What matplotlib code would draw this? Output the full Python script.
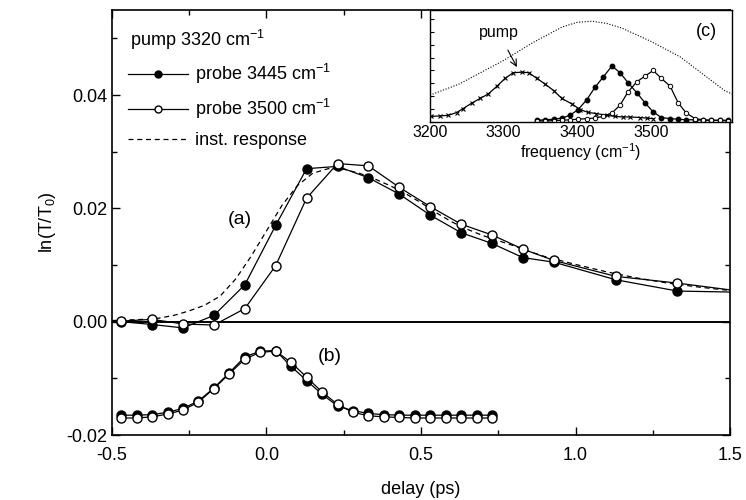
import numpy as np
import matplotlib
matplotlib.use("Agg")
import matplotlib.pyplot as plt
from matplotlib.ticker import MultipleLocator, NullFormatter, FixedLocator

plt.rcParams['font.family'] = ['Liberation Sans', 'DejaVu Sans']
plt.rcParams['mathtext.fontset'] = 'custom'
plt.rcParams['mathtext.rm'] = 'Liberation Sans'
plt.rcParams['mathtext.it'] = 'Liberation Sans:italic'

# (a) pump-probe transients
delay = [-0.47, -0.37, -0.27, -0.17, -0.07, 0.03, 0.13, 0.23, 0.33, 0.43,
         0.53, 0.63, 0.73, 0.83, 0.93, 1.13, 1.33, 1.53]
probe_3445 = [0.0000, -0.0005, -0.0011, 0.0011, 0.0065, 0.0170, 0.0270, 0.0274, 0.0254, 0.0225,
              0.0188, 0.0157, 0.0138, 0.0113, 0.0105, 0.0074, 0.0054, 0.0052]
probe_3500 = [0.0001, 0.0004, -0.0004, -0.0006, 0.0023, 0.0099, 0.0218, 0.0279, 0.0275, 0.0237,
              0.0203, 0.0172, 0.0153, 0.0128, 0.0108, 0.0080, 0.0068, 0.0054]

# instrument response (dashed)
inst_delay = [-0.5, -0.45, -0.4, -0.35, -0.3, -0.25, -0.2, -0.15, -0.1, -0.05, 0.0, 0.05, 0.1,
              0.15, 0.2, 0.25, 0.3, 0.35, 0.4, 0.45, 0.5, 0.55, 0.6, 0.65, 0.7, 0.75, 0.8,
              0.85, 0.9, 0.95, 1.0, 1.1, 1.2, 1.3, 1.4, 1.5]
inst_resp = [0.0002, 0.0003, 0.0004, 0.0006, 0.0011, 0.0019, 0.0029, 0.0045, 0.0075, 0.0115,
             0.0160, 0.0205, 0.0240, 0.0262, 0.0270, 0.0269, 0.0262, 0.0252, 0.0240, 0.0226,
             0.0210, 0.0192, 0.0176, 0.0163, 0.0152, 0.0143, 0.0134, 0.0124, 0.0115, 0.0108,
             0.0101, 0.0088, 0.0077, 0.0068, 0.0061, 0.0055]

# (b) cross correlation traces
b_delay = [-0.47, -0.42, -0.37, -0.32, -0.27, -0.22, -0.17, -0.12, -0.07, -0.02, 0.03, 0.08,
           0.13, 0.18, 0.23, 0.28, 0.33, 0.38, 0.43, 0.48, 0.53, 0.58, 0.63, 0.68, 0.73]
b_3445 = [-0.0165, -0.0165, -0.0164, -0.0160, -0.0153, -0.0140, -0.0117, -0.0090, -0.0062,
          -0.0052, -0.0051, -0.0079, -0.0104, -0.0128, -0.0149, -0.0157, -0.0162, -0.0164,
          -0.0165, -0.0165, -0.0165, -0.0165, -0.0165, -0.0165, -0.0165]
b_3500 = [-0.0170, -0.0170, -0.0168, -0.0163, -0.0156, -0.0142, -0.0118, -0.0092, -0.0066,
          -0.0054, -0.0052, -0.0072, -0.0098, -0.0124, -0.0146, -0.0160, -0.0166, -0.0168,
          -0.0169, -0.0170, -0.0170, -0.0170, -0.0170, -0.0170, -0.0170]

# (c) spectra
laser_freq = [3200, 3220, 3240, 3260, 3280, 3300, 3320, 3340, 3360, 3380, 3400, 3420, 3440,
              3460, 3480, 3500, 3520, 3540, 3560, 3580, 3600, 3610]
laser_spec = [0.24, 0.29, 0.34, 0.41, 0.48, 0.55, 0.63, 0.71, 0.78, 0.85, 0.89, 0.90, 0.88,
              0.84, 0.78, 0.72, 0.65, 0.58, 0.48, 0.38, 0.28, 0.25]
pump_freq = [3202, 3213, 3225, 3236, 3245, 3257, 3268, 3279, 3291, 3302, 3313, 3325, 3334,
             3345, 3356, 3368, 3379, 3393, 3404, 3415, 3426, 3440, 3451, 3462, 3472, 3485,
             3494, 3503]
pump_spec = [0.05, 0.054, 0.06, 0.084, 0.12, 0.17, 0.21, 0.25, 0.32, 0.39, 0.44, 0.445, 0.44,
             0.39, 0.34, 0.28, 0.21, 0.16, 0.11, 0.085, 0.075, 0.06, 0.05, 0.045, 0.045, 0.04,
             0.035, 0.03]
probe_freq = [3345, 3356, 3368, 3379, 3390, 3401, 3413, 3424, 3435, 3447, 3458, 3469, 3481,
              3492, 3503, 3514, 3526, 3537, 3548, 3560, 3571, 3582, 3594, 3605]
spec_3445 = [0.015, 0.02, 0.025, 0.035, 0.06, 0.11, 0.20, 0.31, 0.40, 0.50, 0.44, 0.35, 0.26,
             0.17, 0.09, 0.04, 0.03, 0.025, 0.02, 0.02, 0.015, 0.015, 0.015, 0.015]
spec_3500 = [0.01, 0.01, 0.012, 0.015, 0.02, 0.025, 0.03, 0.035, 0.05, 0.08, 0.15, 0.27, 0.36,
             0.41, 0.46, 0.39, 0.32, 0.17, 0.08, 0.03, 0.02, 0.015, 0.015, 0.01]
freq_ticks = [3200, 3300, 3400, 3500]

fig = plt.figure(figsize=(7.46, 5.0), dpi=100)
ax = fig.add_axes([0.150, 0.13, 0.8286, 0.85])

ax.axhline(0, color='black', lw=1.4, zorder=1)
ax.plot(inst_delay, inst_resp, color='black', lw=0.9, dashes=(4, 3), label='inst. response')
ax.plot(delay, probe_3445, '-o', color='black', lw=0.9, ms=6.5, mfc='black', mec='black',
        label='probe 3445 cm$^{-1}$')
ax.plot(delay, probe_3500, '-o', color='black', lw=0.9, ms=6.5, mfc='white', mec='black',
        label='probe 3500 cm$^{-1}$')
ax.plot(b_delay, b_3445, '-o', color='black', lw=0.9, ms=6.5, mfc='black', mec='black')
ax.plot(b_delay, b_3500, '-o', color='black', lw=0.9, ms=6.5, mfc='white', mec='black')

ax.set_xlim(-0.5, 1.5)
ax.set_ylim(-0.02, 0.055)
ax.xaxis.set_major_locator(MultipleLocator(0.5))
ax.xaxis.set_minor_locator(MultipleLocator(0.25))
ax.yaxis.set_major_locator(MultipleLocator(0.02))
ax.yaxis.set_minor_locator(MultipleLocator(0.01))
ax.xaxis.set_major_formatter(plt.FuncFormatter(lambda v, p: '%.1f' % v))
ax.yaxis.set_major_formatter(plt.FuncFormatter(lambda v, p: '%.2f' % v))
ax.tick_params(which='both', direction='in', top=True, right=True, labelsize=13, width=1)
ax.tick_params(which='major', length=6)
ax.tick_params(which='minor', length=3.5)
ax.tick_params(axis='x', pad=9)
for s in ax.spines.values():
    s.set_linewidth(1.2)
ax.set_xlabel('delay (ps)', fontsize=13, labelpad=12)
ax.set_ylabel('ln(T/T$_0$)', fontsize=13, labelpad=6)

ax.text(-0.086, 0.0181, '(a)', fontsize=14, ha='center', va='center')
ax.text(0.205, -0.0061, '(b)', fontsize=14, ha='center', va='center')

# legend: header + three entries
ax.text(-0.44, 0.0497, 'pump 3320 cm$^{-1}$', fontsize=13, ha='left', va='center')
h, l = ax.get_legend_handles_labels()
leg = ax.legend([h[1], h[2], h[0]], [l[1], l[2], l[0]], loc='upper left',
                bbox_to_anchor=(0.0, 0.915), frameon=False, fontsize=13,
                handlelength=3.3, handletextpad=0.4, labelspacing=0.6, borderaxespad=0.5)
for lh in leg.legend_handles:
    lh.set_markersize(5)

# inset (c)
axin = fig.add_axes([0.5764, 0.756, 0.4048, 0.224])
axin.plot(laser_freq, laser_spec, color='black', lw=0.8, ls=(0, (1, 1.5)))
axin.plot(pump_freq, pump_spec, '-x', color='black', lw=0.9, ms=3.5, mew=0.8)
axin.plot(probe_freq, spec_3445, '-o', color='black', lw=0.9, ms=3.2, mfc='black', mec='black')
axin.plot(probe_freq, spec_3500, '-o', color='black', lw=0.9, ms=3.2, mfc='white',
          mec='black', mew=0.7)
axin.set_xlim(3200, 3610)
axin.set_ylim(0, 1)
axin.xaxis.set_major_locator(FixedLocator(freq_ticks))
axin.yaxis.set_major_locator(MultipleLocator(0.115))
axin.yaxis.set_major_formatter(NullFormatter())
axin.tick_params(direction='in', length=3, width=0.8, labelsize=11.5, pad=2, right=False, top=False)
axin.tick_params(axis='x', length=0)
for s in axin.spines.values():
    s.set_linewidth(1.0)
axin.set_xlabel('frequency (cm$^{-1}$)', fontsize=11.5, labelpad=1)
axin.annotate('pump', xy=(3318, 0.49), xytext=(3293, 0.80), fontsize=11.5,
              ha='center', va='center',
              arrowprops=dict(arrowstyle='->', color='black', lw=0.8, shrinkA=6, shrinkB=0))
axin.text(3576, 0.806, '(c)', fontsize=13, ha='center', va='center')

fig.savefig('out.png', dpi=100)
